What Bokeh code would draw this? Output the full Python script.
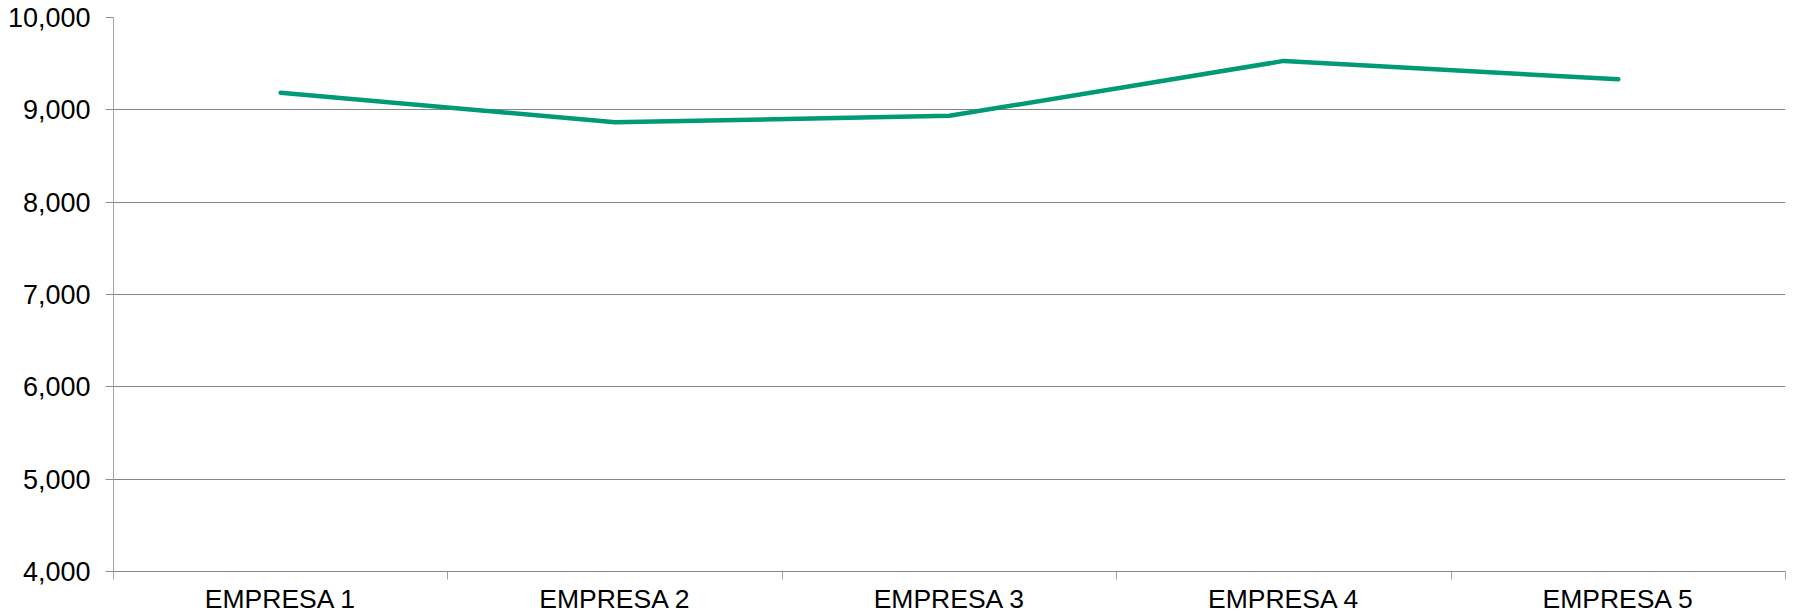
from bokeh.plotting import figure
from bokeh.models import Range1d, FixedTicker, NumeralTickFormatter
from bokeh.embed import file_html
from bokeh.resources import INLINE

categories = ["EMPRESA 1", "EMPRESA 2", "EMPRESA 3", "EMPRESA 4", "EMPRESA 5"]
values = [9185, 8865, 8935, 9530, 9330]
y_ticks = [4000, 5000, 6000, 7000, 8000, 9000, 10000]

xs = [i + 0.5 for i in range(len(categories))]

p = figure(width=1796, height=616, output_backend="svg", toolbar_location=None,
           x_range=Range1d(0, len(categories)), y_range=Range1d(y_ticks[0], y_ticks[-1]),
           min_border_left=113, min_border_top=17, min_border_right=11, min_border_bottom=44)
p.outline_line_color = None
p.background_fill_color = "white"

p.line(xs, values, line_color="#009a77", line_width=4.5, line_cap="round", line_join="round")

font = "Liberation Sans"
# x axis
xa = p.xaxis[0]
xa.ticker = FixedTicker(ticks=xs, minor_ticks=list(range(len(categories) + 1)))
xa.major_label_overrides = {x: c for x, c in zip(xs, categories)}
xa.major_tick_line_color = None
xa.major_tick_out = 0
xa.major_tick_in = 0
xa.minor_tick_line_color = "#a0a0a0"
xa.minor_tick_out = 8
xa.minor_tick_in = 0
xa.axis_line_color = "#868686"
xa.major_label_text_font = font
xa.major_label_text_font_size = "26.5px"
xa.major_label_text_color = "#000000"
xa.major_label_standoff = 4

# y axis
ya = p.yaxis[0]
ya.ticker = FixedTicker(ticks=y_ticks)
ya.formatter = NumeralTickFormatter(format="0,0")
ya.axis_line_color = "#a6a6a6"
ya.major_tick_line_color = "#8c8c8c"
ya.major_tick_out = 8
ya.major_tick_in = 0
ya.minor_tick_line_color = None
ya.major_label_text_font = font
ya.major_label_text_font_size = "27px"
ya.major_label_text_color = "#000000"
ya.major_label_standoff = 15

p.xgrid.grid_line_color = None
p.ygrid.grid_line_color = "#848484"
p.ygrid.grid_line_width = 1.2
p.ygrid.ticker = FixedTicker(ticks=y_ticks)

open("out.html", "w").write(file_html(p, INLINE))
